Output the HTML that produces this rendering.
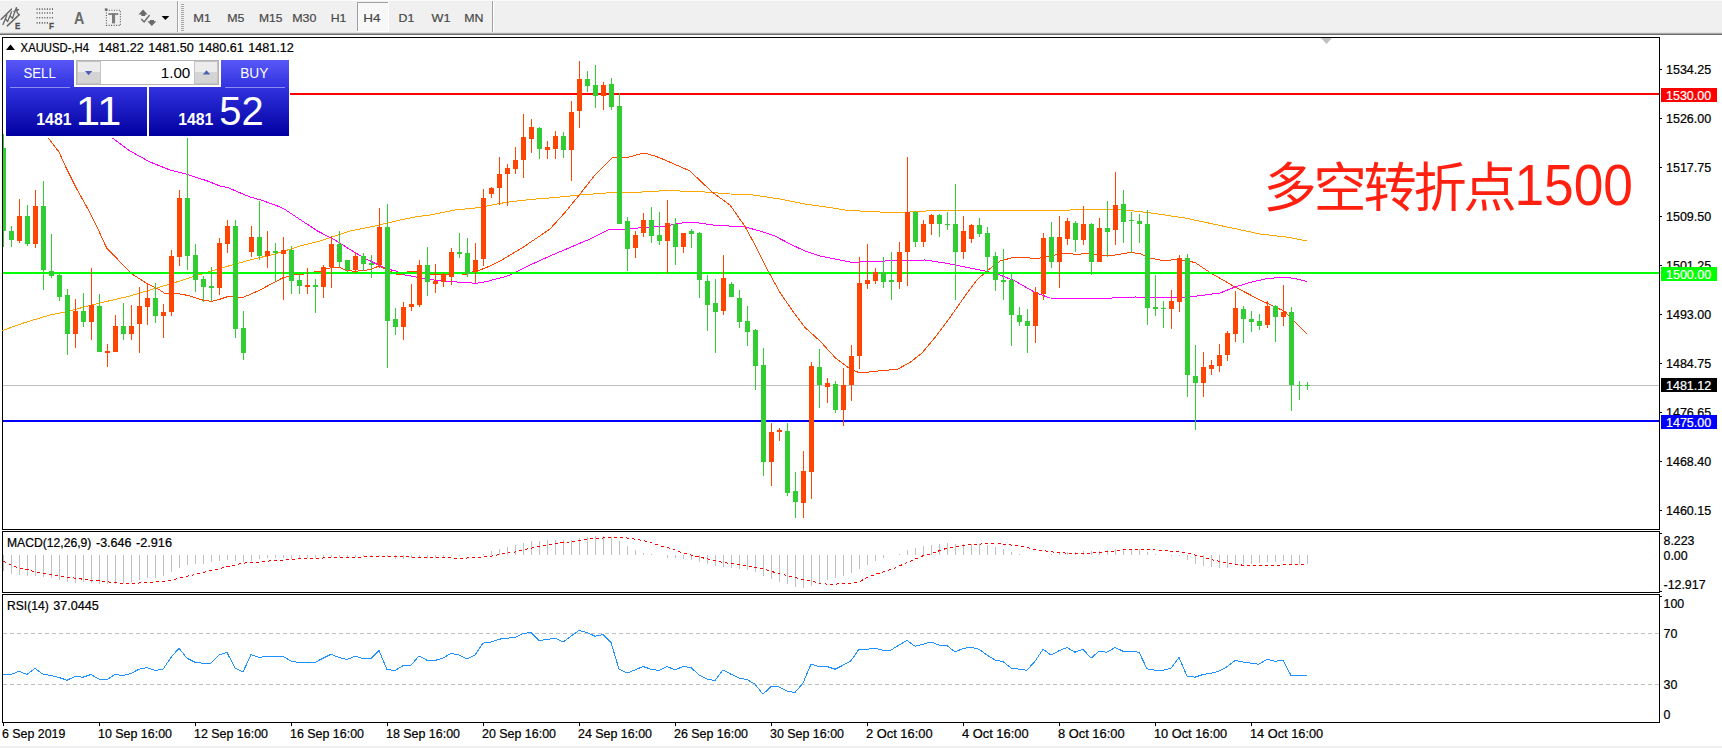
<!DOCTYPE html><html><head><meta charset="utf-8"><title>XAUUSD H4</title>
<style>
html,body{margin:0;padding:0;background:#fff}
body{width:1722px;height:748px;position:relative;overflow:hidden;font-family:"Liberation Sans","Noto Sans CJK SC",sans-serif}
svg{position:absolute;left:0;top:0}
text{font-family:"Liberation Sans","Noto Sans CJK SC",sans-serif}
.ax{font-size:12.4px;fill:#000;stroke:#000;stroke-width:.22px}
.tb{font-size:11.8px;fill:#484848;stroke:#484848;stroke-width:.2px}
.tag{font-size:12.4px;fill:#fff;stroke:#fff;stroke-width:.22px}
.cn{font-family:"Liberation Sans","Noto Sans CJK SC",sans-serif;font-size:53.2px;fill:#ff2010}
</style></head><body>
<svg width="1722" height="748" viewBox="0 0 1722 748">
<defs><linearGradient id="bg1" x1="0" y1="0" x2="0" y2="1"><stop offset="0" stop-color="#5858f8"/><stop offset="0.36" stop-color="#3232e0"/><stop offset="1" stop-color="#0000a0"/></linearGradient><linearGradient id="btn" x1="0" y1="0" x2="0" y2="1"><stop offset="0" stop-color="#f4f4f4"/><stop offset="1" stop-color="#cfcfcf"/></linearGradient></defs>
<g shape-rendering="crispEdges">
<rect x="0" y="0" width="1722" height="37" fill="#f0f0f0"/>
<rect x="0" y="0" width="1722" height="1" fill="#fbfbfb"/>
<rect x="0" y="32" width="1722" height="1" fill="#e2e2e2"/>
<rect x="0" y="33" width="1722" height="1" fill="#a8a8a8"/>
<rect x="0" y="34" width="1722" height="1" fill="#6c6c6c"/>
<rect x="0" y="35" width="1722" height="713" fill="#fff"/>
<rect x="177" y="1" width="1" height="31" fill="#a0a0a0"/><rect x="178" y="1" width="1" height="31" fill="#fff"/>
<rect x="181" y="4" width="3" height="1" fill="#a8a8a8"/>
<rect x="181" y="6" width="3" height="1" fill="#a8a8a8"/>
<rect x="181" y="8" width="3" height="1" fill="#a8a8a8"/>
<rect x="181" y="10" width="3" height="1" fill="#a8a8a8"/>
<rect x="181" y="12" width="3" height="1" fill="#a8a8a8"/>
<rect x="181" y="14" width="3" height="1" fill="#a8a8a8"/>
<rect x="181" y="16" width="3" height="1" fill="#a8a8a8"/>
<rect x="181" y="18" width="3" height="1" fill="#a8a8a8"/>
<rect x="181" y="20" width="3" height="1" fill="#a8a8a8"/>
<rect x="181" y="22" width="3" height="1" fill="#a8a8a8"/>
<rect x="181" y="24" width="3" height="1" fill="#a8a8a8"/>
<rect x="181" y="26" width="3" height="1" fill="#a8a8a8"/>
<rect x="181" y="28" width="3" height="1" fill="#a8a8a8"/>
<rect x="181" y="30" width="3" height="1" fill="#a8a8a8"/>
<rect x="492" y="1" width="1" height="31" fill="#a0a0a0"/><rect x="493" y="1" width="1" height="31" fill="#fff"/>
<rect x="357" y="2" width="32" height="30" fill="#fff"/><rect x="357" y="2" width="31" height="29" fill="#a0a0a0"/><rect x="358" y="3" width="30" height="28" fill="#f8f8f8"/>
</g>
<text class="tb" x="193.2" y="22.1" textLength="17.8" lengthAdjust="spacingAndGlyphs">M1</text>
<text class="tb" x="227.2" y="22.1" textLength="17.2" lengthAdjust="spacingAndGlyphs">M5</text>
<text class="tb" x="258.9" y="22.1" textLength="23.5" lengthAdjust="spacingAndGlyphs">M15</text>
<text class="tb" x="292.2" y="22.1" textLength="24.2" lengthAdjust="spacingAndGlyphs">M30</text>
<text class="tb" x="330.7" y="22.1" textLength="15.7" lengthAdjust="spacingAndGlyphs">H1</text>
<text class="tb" x="363.2" y="22.1" textLength="17.2" lengthAdjust="spacingAndGlyphs">H4</text>
<text class="tb" x="398.59999999999997" y="22.1" textLength="15.799999999999999" lengthAdjust="spacingAndGlyphs">D1</text>
<text class="tb" x="431.5" y="22.1" textLength="18.9" lengthAdjust="spacingAndGlyphs">W1</text>
<text class="tb" x="464.2" y="22.1" textLength="19.2" lengthAdjust="spacingAndGlyphs">MN</text>
<g stroke="#6a6a6a" fill="none" stroke-width="1.6" stroke-linecap="round"><path d="M1.2 19.2 L11.4 9.2 M7.3 25.8 L19.3 14.6"/><path stroke-width="1.35" stroke-linejoin="round" d="M3 24.6 L6.8 15.2 M5.4 18.6 L7.6 21.6 L11.6 11.8 M10 15.8 L12.4 18.4 L16.4 7.6 L17.2 12.6 L18.8 14.6 M14 11.4 L18.6 9.6"/></g>
<text x="15" y="28.8" font-size="9" font-weight="bold" fill="#505050" stroke="#505050" stroke-width="0.3" textLength="5.3" lengthAdjust="spacingAndGlyphs">E</text>
<g stroke="#5c5c5c" stroke-width="1.6" stroke-dasharray="1 1.57"><path d="M36.6 9.1H53.5M36.6 13H53.5M36.6 17.8H53.5M36.6 22.9H48.5"/></g>
<text x="49" y="28.8" font-size="9" font-weight="bold" fill="#505050" stroke="#505050" stroke-width="0.3" textLength="5" lengthAdjust="spacingAndGlyphs">F</text>
<text x="74.1" y="23.5" font-size="16" font-weight="bold" fill="#6a6a6a" textLength="10.3" lengthAdjust="spacingAndGlyphs">A</text>
<rect x="106.4" y="10.2" width="14" height="15.2" fill="none" stroke="#555" stroke-width="1.1" stroke-dasharray="1 1.5"/>
<rect x="104.8" y="8.4" width="2.7" height="2.3" fill="#6a6a6a"/>
<rect x="108.3" y="13.2" width="10" height="1.7" fill="#7c7c7c"/><rect x="112" y="13.2" width="3.1" height="10.2" fill="#7c7c7c"/>
<g fill="#6a6a6a"><path d="M143.1 9.4 L147.5 14.6 L145.2 14.6 L145.2 16 L141.3 16 L141.3 14.6 L138.5 14.6Z"/><path d="M151.8 26 L156.4 21.2 L154 21.2 L154 19.9 L149.9 19.9 L149.9 21.2 L147.4 21.2Z"/></g><path d="M141.3 19 L144.1 21.9 L149.6 15.1" stroke="#6a6a6a" stroke-width="1.5" fill="none"/>
<path d="M161.6 16 L169.3 16 L165.4 20.1Z" fill="#000"/>
<g shape-rendering="crispEdges" fill="#000">
<rect x="2" y="37" width="1658" height="1"/>
<rect x="2" y="37" width="1" height="686"/>
<rect x="1659" y="37" width="1" height="686"/>
<rect x="2" y="529" width="1658" height="1"/>
<rect x="2" y="531" width="1658" height="1"/>
<rect x="2" y="592" width="1658" height="1"/>
<rect x="2" y="594" width="1658" height="1"/>
<rect x="2" y="722" width="1658" height="1"/>
<rect x="2" y="530" width="1658" height="1" fill="#fff"/>
<rect x="2" y="593" width="1658" height="1" fill="#fff"/>
<rect x="1660" y="591" width="2" height="1"/><rect x="1660" y="596" width="2" height="1"/><rect x="1660" y="533" width="2" height="1"/>
</g>
<rect x="0" y="746" width="1722" height="2" fill="#f0f0f0"/>
<path d="M1321 38 L1332 38 L1326.5 44Z" fill="#c0c0c0"/>
<g shape-rendering="crispEdges">
<rect x="3" y="385" width="1656" height="1" fill="#c0c0c0"/>
<polyline fill="none" stroke="#ffa500" stroke-width="1" points="2.5,330.5 25.0,322.5 50.0,315.0 65.0,312.0 100.0,303.0 130.0,296.0 150.0,290.0 175.0,282.5 200.0,274.5 225.0,267.0 250.0,260.0 275.0,254.0 300.0,246.0 320.0,241.0 350.0,231.0 375.0,226.0 400.0,220.0 415.0,217.0 430.0,215.0 455.0,210.0 480.0,207.5 505.0,202.5 530.0,199.5 555.0,197.5 580.0,195.0 612.5,192.5 642.5,192.0 667.5,190.5 705.0,192.0 730.0,194.0 750.0,194.5 780.0,199.0 805.0,204.0 830.0,207.5 845.0,210.0 860.0,211.0 890.0,212.5 910.0,212.0 935.0,210.5 1015.0,211.0 1055.0,210.5 1085.0,209.5 1110.0,209.5 1125.0,210.0 1147.5,212.5 1185.0,218.0 1222.5,226.0 1260.0,234.0 1290.0,237.5 1306.5,241.0"/>
<polyline fill="none" stroke="#ff00ff" stroke-width="1" points="112.5,138.0 130.0,151.0 150.0,162.0 170.0,170.0 187.5,174.5 207.5,181.0 220.0,186.0 227.5,187.5 250.0,197.0 262.5,200.5 277.5,206.0 285.0,209.5 300.0,219.5 317.5,231.0 335.0,240.0 350.0,249.5 365.0,258.5 371.7,261.6 385.5,268.5 396.8,271.3 402.0,274.4 410.6,276.0 418.0,277.3 432.0,279.8 440.8,280.8 457.0,282.0 476.0,283.3 486.0,281.7 505.0,276.7 510.0,275.0 530.0,265.0 550.0,256.0 570.0,247.5 590.0,239.0 610.0,229.0 625.0,229.0 645.0,227.5 665.0,226.0 685.0,222.5 695.0,222.5 712.5,225.0 745.0,227.0 760.0,231.0 775.0,236.0 790.0,244.0 805.0,251.0 820.0,256.0 835.0,259.0 850.0,262.0 860.0,262.0 885.0,261.0 925.0,260.0 945.0,263.0 960.0,266.0 985.0,271.0 1000.0,275.0 1015.0,281.0 1035.0,292.5 1050.0,298.0 1090.0,299.0 1135.0,297.0 1160.0,297.5 1185.0,297.5 1205.0,295.0 1220.0,293.0 1235.0,287.0 1250.0,282.5 1265.0,279.0 1284.0,277.0 1295.0,278.5 1307.0,281.5"/>
<polyline fill="none" stroke="#ff4500" stroke-width="1" points="48.4,138.0 58.8,151.7 66.5,168.5 76.1,187.8 88.2,209.5 97.8,228.7 106.9,248.5 119.5,261.2 131.5,273.7 146.0,282.9 158.0,288.9 165.2,293.7 177.3,293.5 189.3,295.7 201.3,299.8 211.0,301.4 218.2,299.8 227.8,296.6 242.3,297.8 260.0,290.0 282.5,278.0 294.0,274.8 302.0,274.4 310.0,273.0 317.0,271.4 321.0,271.2 326.4,269.0 332.7,267.2 340.0,267.6 346.5,270.4 355.0,271.3 365.0,270.4 371.7,269.0 379.0,266.0 384.0,268.5 390.5,271.3 396.8,274.4 403.0,274.0 409.0,271.3 415.6,271.1 422.0,273.0 432.0,274.8 450.0,275.0 462.0,275.0 466.0,274.6 472.0,272.0 478.0,270.8 490.0,266.0 503.6,259.0 522.0,248.0 550.0,229.0 565.0,212.5 580.0,194.0 595.0,175.0 612.0,158.0 627.0,157.5 644.0,153.0 655.0,156.0 665.0,160.0 690.0,171.0 712.0,192.0 730.0,205.0 745.0,226.5 755.0,245.0 767.5,270.0 780.0,292.5 792.0,310.0 805.0,327.5 820.0,341.0 835.0,357.5 850.0,369.0 860.0,373.0 882.0,370.5 897.0,369.5 910.0,362.5 922.0,353.0 935.0,337.5 950.0,317.5 965.0,296.0 977.0,280.0 985.0,272.5 1000.0,261.0 1015.0,257.0 1025.0,257.0 1035.0,259.0 1050.0,256.0 1065.0,253.0 1077.0,254.5 1090.0,253.0 1100.0,256.0 1115.0,255.0 1130.0,252.5 1140.0,253.5 1150.0,258.0 1165.0,261.0 1177.0,259.0 1195.0,262.5 1210.0,272.5 1235.0,287.0 1260.0,300.0 1285.0,311.5 1290.0,317.0 1307.0,334.0"/>
<rect x="290" y="93" width="1369" height="2" fill="#ff0000"/>
<rect x="3" y="272" width="1656" height="2" fill="#00ff00"/>
<rect x="3" y="420" width="1656" height="2" fill="#0000ff"/>
<rect x="3" y="134" width="1" height="113" fill="#32cd32"/>
<rect x="3" y="148" width="3" height="83" fill="#32cd32"/>
<rect x="11" y="226" width="1" height="21" fill="#32cd32"/>
<rect x="9" y="231" width="5" height="9" fill="#32cd32"/>
<rect x="19" y="199" width="1" height="44" fill="#ff4500"/>
<rect x="17" y="216" width="5" height="25" fill="#ff4500"/>
<rect x="27" y="205" width="1" height="41" fill="#32cd32"/>
<rect x="25" y="216" width="5" height="28" fill="#32cd32"/>
<rect x="35" y="190" width="1" height="58" fill="#ff4500"/>
<rect x="33" y="206" width="5" height="38" fill="#ff4500"/>
<rect x="43" y="181" width="1" height="109" fill="#32cd32"/>
<rect x="41" y="206" width="5" height="64" fill="#32cd32"/>
<rect x="51" y="234" width="1" height="44" fill="#32cd32"/>
<rect x="49" y="271" width="5" height="5" fill="#32cd32"/>
<rect x="59" y="274" width="1" height="27" fill="#32cd32"/>
<rect x="57" y="275" width="5" height="22" fill="#32cd32"/>
<rect x="67" y="289" width="1" height="66" fill="#32cd32"/>
<rect x="65" y="295" width="5" height="39" fill="#32cd32"/>
<rect x="75" y="299" width="1" height="49" fill="#ff4500"/>
<rect x="73" y="311" width="5" height="23" fill="#ff4500"/>
<rect x="83" y="293" width="1" height="34" fill="#32cd32"/>
<rect x="81" y="311" width="5" height="11" fill="#32cd32"/>
<rect x="91" y="268" width="1" height="72" fill="#ff4500"/>
<rect x="89" y="305" width="5" height="17" fill="#ff4500"/>
<rect x="99" y="294" width="1" height="58" fill="#32cd32"/>
<rect x="97" y="306" width="5" height="46" fill="#32cd32"/>
<rect x="107" y="344" width="1" height="23" fill="#ff4500"/>
<rect x="105" y="351" width="5" height="2" fill="#ff4500"/>
<rect x="115" y="315" width="1" height="37" fill="#ff4500"/>
<rect x="113" y="326" width="5" height="26" fill="#ff4500"/>
<rect x="123" y="303" width="1" height="37" fill="#32cd32"/>
<rect x="121" y="326" width="5" height="8" fill="#32cd32"/>
<rect x="131" y="305" width="1" height="35" fill="#ff4500"/>
<rect x="129" y="326" width="5" height="8" fill="#ff4500"/>
<rect x="139" y="287" width="1" height="66" fill="#ff4500"/>
<rect x="137" y="306" width="5" height="18" fill="#ff4500"/>
<rect x="147" y="284" width="1" height="41" fill="#ff4500"/>
<rect x="145" y="298" width="5" height="9" fill="#ff4500"/>
<rect x="155" y="283" width="1" height="40" fill="#32cd32"/>
<rect x="153" y="298" width="5" height="18" fill="#32cd32"/>
<rect x="163" y="304" width="1" height="34" fill="#ff4500"/>
<rect x="161" y="312" width="5" height="4" fill="#ff4500"/>
<rect x="171" y="250" width="1" height="66" fill="#ff4500"/>
<rect x="169" y="256" width="5" height="56" fill="#ff4500"/>
<rect x="179" y="190" width="1" height="76" fill="#ff4500"/>
<rect x="177" y="198" width="5" height="59" fill="#ff4500"/>
<rect x="187" y="138" width="1" height="132" fill="#32cd32"/>
<rect x="185" y="198" width="5" height="58" fill="#32cd32"/>
<rect x="195" y="244" width="1" height="48" fill="#32cd32"/>
<rect x="193" y="255" width="5" height="25" fill="#32cd32"/>
<rect x="203" y="276" width="1" height="26" fill="#32cd32"/>
<rect x="201" y="279" width="5" height="8" fill="#32cd32"/>
<rect x="211" y="267" width="1" height="34" fill="#32cd32"/>
<rect x="209" y="286" width="5" height="2" fill="#32cd32"/>
<rect x="219" y="238" width="1" height="57" fill="#ff4500"/>
<rect x="217" y="243" width="5" height="45" fill="#ff4500"/>
<rect x="227" y="220" width="1" height="33" fill="#ff4500"/>
<rect x="225" y="226" width="5" height="18" fill="#ff4500"/>
<rect x="235" y="220" width="1" height="118" fill="#32cd32"/>
<rect x="233" y="226" width="5" height="103" fill="#32cd32"/>
<rect x="243" y="311" width="1" height="49" fill="#32cd32"/>
<rect x="241" y="328" width="5" height="25" fill="#32cd32"/>
<rect x="251" y="226" width="1" height="31" fill="#ff4500"/>
<rect x="249" y="237" width="5" height="15" fill="#ff4500"/>
<rect x="259" y="201" width="1" height="59" fill="#32cd32"/>
<rect x="257" y="237" width="5" height="19" fill="#32cd32"/>
<rect x="267" y="231" width="1" height="37" fill="#ff4500"/>
<rect x="265" y="251" width="5" height="5" fill="#ff4500"/>
<rect x="275" y="243" width="1" height="38" fill="#32cd32"/>
<rect x="273" y="251" width="5" height="2" fill="#32cd32"/>
<rect x="283" y="237" width="1" height="63" fill="#ff4500"/>
<rect x="281" y="250" width="5" height="4" fill="#ff4500"/>
<rect x="291" y="246" width="1" height="48" fill="#32cd32"/>
<rect x="289" y="250" width="5" height="31" fill="#32cd32"/>
<rect x="299" y="274" width="1" height="20" fill="#32cd32"/>
<rect x="297" y="280" width="5" height="6" fill="#32cd32"/>
<rect x="307" y="268" width="1" height="26" fill="#ff4500"/>
<rect x="305" y="285" width="5" height="2" fill="#ff4500"/>
<rect x="315" y="279" width="1" height="34" fill="#32cd32"/>
<rect x="313" y="285" width="5" height="2" fill="#32cd32"/>
<rect x="323" y="265" width="1" height="33" fill="#ff4500"/>
<rect x="321" y="267" width="5" height="20" fill="#ff4500"/>
<rect x="331" y="236" width="1" height="52" fill="#ff4500"/>
<rect x="329" y="244" width="5" height="23" fill="#ff4500"/>
<rect x="339" y="231" width="1" height="36" fill="#32cd32"/>
<rect x="337" y="244" width="5" height="18" fill="#32cd32"/>
<rect x="347" y="260" width="1" height="13" fill="#32cd32"/>
<rect x="345" y="260" width="5" height="10" fill="#32cd32"/>
<rect x="355" y="252" width="1" height="21" fill="#ff4500"/>
<rect x="353" y="256" width="5" height="14" fill="#ff4500"/>
<rect x="363" y="253" width="1" height="18" fill="#32cd32"/>
<rect x="361" y="256" width="5" height="8" fill="#32cd32"/>
<rect x="371" y="255" width="1" height="23" fill="#32cd32"/>
<rect x="369" y="263" width="5" height="2" fill="#32cd32"/>
<rect x="379" y="208" width="1" height="60" fill="#ff4500"/>
<rect x="377" y="227" width="5" height="38" fill="#ff4500"/>
<rect x="387" y="204" width="1" height="164" fill="#32cd32"/>
<rect x="385" y="227" width="5" height="94" fill="#32cd32"/>
<rect x="395" y="308" width="1" height="27" fill="#32cd32"/>
<rect x="393" y="319" width="5" height="8" fill="#32cd32"/>
<rect x="403" y="302" width="1" height="38" fill="#ff4500"/>
<rect x="401" y="307" width="5" height="20" fill="#ff4500"/>
<rect x="411" y="284" width="1" height="27" fill="#ff4500"/>
<rect x="409" y="304" width="5" height="3" fill="#ff4500"/>
<rect x="419" y="260" width="1" height="47" fill="#ff4500"/>
<rect x="417" y="265" width="5" height="40" fill="#ff4500"/>
<rect x="427" y="247" width="1" height="49" fill="#32cd32"/>
<rect x="425" y="265" width="5" height="17" fill="#32cd32"/>
<rect x="435" y="264" width="1" height="29" fill="#ff4500"/>
<rect x="433" y="281" width="5" height="3" fill="#ff4500"/>
<rect x="443" y="273" width="1" height="14" fill="#ff4500"/>
<rect x="441" y="275" width="5" height="7" fill="#ff4500"/>
<rect x="451" y="248" width="1" height="37" fill="#ff4500"/>
<rect x="449" y="252" width="5" height="25" fill="#ff4500"/>
<rect x="459" y="233" width="1" height="25" fill="#32cd32"/>
<rect x="457" y="252" width="5" height="2" fill="#32cd32"/>
<rect x="467" y="238" width="1" height="39" fill="#32cd32"/>
<rect x="465" y="253" width="5" height="21" fill="#32cd32"/>
<rect x="475" y="243" width="1" height="40" fill="#ff4500"/>
<rect x="473" y="260" width="5" height="12" fill="#ff4500"/>
<rect x="483" y="189" width="1" height="77" fill="#ff4500"/>
<rect x="481" y="198" width="5" height="61" fill="#ff4500"/>
<rect x="491" y="187" width="1" height="11" fill="#ff4500"/>
<rect x="489" y="188" width="5" height="6" fill="#ff4500"/>
<rect x="499" y="157" width="1" height="48" fill="#ff4500"/>
<rect x="497" y="174" width="5" height="14" fill="#ff4500"/>
<rect x="507" y="164" width="1" height="42" fill="#ff4500"/>
<rect x="505" y="168" width="5" height="6" fill="#ff4500"/>
<rect x="515" y="147" width="1" height="27" fill="#ff4500"/>
<rect x="513" y="160" width="5" height="9" fill="#ff4500"/>
<rect x="523" y="114" width="1" height="64" fill="#ff4500"/>
<rect x="521" y="137" width="5" height="23" fill="#ff4500"/>
<rect x="531" y="119" width="1" height="34" fill="#ff4500"/>
<rect x="529" y="127" width="5" height="12" fill="#ff4500"/>
<rect x="539" y="127" width="1" height="32" fill="#32cd32"/>
<rect x="537" y="128" width="5" height="21" fill="#32cd32"/>
<rect x="547" y="141" width="1" height="18" fill="#ff4500"/>
<rect x="545" y="147" width="5" height="3" fill="#ff4500"/>
<rect x="555" y="131" width="1" height="28" fill="#ff4500"/>
<rect x="553" y="136" width="5" height="13" fill="#ff4500"/>
<rect x="563" y="132" width="1" height="26" fill="#32cd32"/>
<rect x="561" y="136" width="5" height="14" fill="#32cd32"/>
<rect x="571" y="101" width="1" height="80" fill="#ff4500"/>
<rect x="569" y="112" width="5" height="38" fill="#ff4500"/>
<rect x="579" y="61" width="1" height="67" fill="#ff4500"/>
<rect x="577" y="79" width="5" height="32" fill="#ff4500"/>
<rect x="587" y="71" width="1" height="21" fill="#32cd32"/>
<rect x="585" y="79" width="5" height="7" fill="#32cd32"/>
<rect x="595" y="65" width="1" height="43" fill="#32cd32"/>
<rect x="593" y="85" width="5" height="11" fill="#32cd32"/>
<rect x="603" y="82" width="1" height="28" fill="#ff4500"/>
<rect x="601" y="85" width="5" height="11" fill="#ff4500"/>
<rect x="611" y="78" width="1" height="32" fill="#32cd32"/>
<rect x="609" y="84" width="5" height="23" fill="#32cd32"/>
<rect x="619" y="93" width="1" height="131" fill="#32cd32"/>
<rect x="617" y="106" width="5" height="118" fill="#32cd32"/>
<rect x="627" y="217" width="1" height="54" fill="#32cd32"/>
<rect x="625" y="221" width="5" height="28" fill="#32cd32"/>
<rect x="635" y="231" width="1" height="27" fill="#ff4500"/>
<rect x="633" y="235" width="5" height="13" fill="#ff4500"/>
<rect x="643" y="213" width="1" height="24" fill="#ff4500"/>
<rect x="641" y="220" width="5" height="13" fill="#ff4500"/>
<rect x="651" y="207" width="1" height="36" fill="#32cd32"/>
<rect x="649" y="220" width="5" height="16" fill="#32cd32"/>
<rect x="659" y="212" width="1" height="33" fill="#32cd32"/>
<rect x="657" y="235" width="5" height="6" fill="#32cd32"/>
<rect x="667" y="200" width="1" height="73" fill="#ff4500"/>
<rect x="665" y="223" width="5" height="18" fill="#ff4500"/>
<rect x="675" y="218" width="1" height="47" fill="#32cd32"/>
<rect x="673" y="224" width="5" height="23" fill="#32cd32"/>
<rect x="683" y="233" width="1" height="20" fill="#ff4500"/>
<rect x="681" y="233" width="5" height="14" fill="#ff4500"/>
<rect x="691" y="229" width="1" height="19" fill="#32cd32"/>
<rect x="689" y="231" width="5" height="3" fill="#32cd32"/>
<rect x="699" y="232" width="1" height="66" fill="#32cd32"/>
<rect x="697" y="233" width="5" height="47" fill="#32cd32"/>
<rect x="707" y="275" width="1" height="56" fill="#32cd32"/>
<rect x="705" y="281" width="5" height="24" fill="#32cd32"/>
<rect x="715" y="279" width="1" height="74" fill="#32cd32"/>
<rect x="713" y="303" width="5" height="9" fill="#32cd32"/>
<rect x="723" y="255" width="1" height="60" fill="#ff4500"/>
<rect x="721" y="278" width="5" height="33" fill="#ff4500"/>
<rect x="731" y="282" width="1" height="15" fill="#32cd32"/>
<rect x="729" y="284" width="5" height="13" fill="#32cd32"/>
<rect x="739" y="290" width="1" height="38" fill="#32cd32"/>
<rect x="737" y="298" width="5" height="24" fill="#32cd32"/>
<rect x="747" y="306" width="1" height="40" fill="#32cd32"/>
<rect x="745" y="321" width="5" height="11" fill="#32cd32"/>
<rect x="755" y="329" width="1" height="61" fill="#32cd32"/>
<rect x="753" y="330" width="5" height="36" fill="#32cd32"/>
<rect x="763" y="348" width="1" height="128" fill="#32cd32"/>
<rect x="761" y="365" width="5" height="97" fill="#32cd32"/>
<rect x="771" y="423" width="1" height="63" fill="#ff4500"/>
<rect x="769" y="432" width="5" height="30" fill="#ff4500"/>
<rect x="779" y="428" width="1" height="13" fill="#ff4500"/>
<rect x="777" y="430" width="5" height="2" fill="#ff4500"/>
<rect x="787" y="423" width="1" height="73" fill="#32cd32"/>
<rect x="785" y="431" width="5" height="62" fill="#32cd32"/>
<rect x="795" y="472" width="1" height="46" fill="#32cd32"/>
<rect x="793" y="491" width="5" height="11" fill="#32cd32"/>
<rect x="803" y="451" width="1" height="67" fill="#ff4500"/>
<rect x="801" y="471" width="5" height="32" fill="#ff4500"/>
<rect x="811" y="362" width="1" height="137" fill="#ff4500"/>
<rect x="809" y="366" width="5" height="106" fill="#ff4500"/>
<rect x="819" y="349" width="1" height="59" fill="#32cd32"/>
<rect x="817" y="367" width="5" height="18" fill="#32cd32"/>
<rect x="827" y="378" width="1" height="25" fill="#ff4500"/>
<rect x="825" y="383" width="5" height="4" fill="#ff4500"/>
<rect x="835" y="381" width="1" height="32" fill="#32cd32"/>
<rect x="833" y="384" width="5" height="26" fill="#32cd32"/>
<rect x="843" y="368" width="1" height="58" fill="#ff4500"/>
<rect x="841" y="385" width="5" height="25" fill="#ff4500"/>
<rect x="851" y="345" width="1" height="56" fill="#ff4500"/>
<rect x="849" y="356" width="5" height="29" fill="#ff4500"/>
<rect x="859" y="257" width="1" height="112" fill="#ff4500"/>
<rect x="857" y="283" width="5" height="73" fill="#ff4500"/>
<rect x="867" y="244" width="1" height="45" fill="#ff4500"/>
<rect x="865" y="280" width="5" height="4" fill="#ff4500"/>
<rect x="875" y="268" width="1" height="16" fill="#ff4500"/>
<rect x="873" y="272" width="5" height="9" fill="#ff4500"/>
<rect x="883" y="257" width="1" height="31" fill="#32cd32"/>
<rect x="881" y="272" width="5" height="10" fill="#32cd32"/>
<rect x="891" y="252" width="1" height="48" fill="#32cd32"/>
<rect x="889" y="280" width="5" height="2" fill="#32cd32"/>
<rect x="899" y="242" width="1" height="47" fill="#ff4500"/>
<rect x="897" y="252" width="5" height="30" fill="#ff4500"/>
<rect x="907" y="157" width="1" height="129" fill="#ff4500"/>
<rect x="905" y="212" width="5" height="40" fill="#ff4500"/>
<rect x="915" y="211" width="1" height="36" fill="#32cd32"/>
<rect x="913" y="212" width="5" height="30" fill="#32cd32"/>
<rect x="923" y="220" width="1" height="27" fill="#ff4500"/>
<rect x="921" y="224" width="5" height="18" fill="#ff4500"/>
<rect x="931" y="214" width="1" height="21" fill="#ff4500"/>
<rect x="929" y="215" width="5" height="9" fill="#ff4500"/>
<rect x="939" y="214" width="1" height="23" fill="#32cd32"/>
<rect x="937" y="215" width="5" height="9" fill="#32cd32"/>
<rect x="947" y="212" width="1" height="18" fill="#32cd32"/>
<rect x="945" y="224" width="5" height="1" fill="#32cd32"/>
<rect x="955" y="184" width="1" height="116" fill="#32cd32"/>
<rect x="953" y="224" width="5" height="28" fill="#32cd32"/>
<rect x="963" y="216" width="1" height="43" fill="#ff4500"/>
<rect x="961" y="231" width="5" height="21" fill="#ff4500"/>
<rect x="971" y="224" width="1" height="19" fill="#ff4500"/>
<rect x="969" y="225" width="5" height="14" fill="#ff4500"/>
<rect x="979" y="218" width="1" height="19" fill="#32cd32"/>
<rect x="977" y="225" width="5" height="9" fill="#32cd32"/>
<rect x="987" y="227" width="1" height="46" fill="#32cd32"/>
<rect x="985" y="233" width="5" height="24" fill="#32cd32"/>
<rect x="995" y="252" width="1" height="39" fill="#32cd32"/>
<rect x="993" y="256" width="5" height="24" fill="#32cd32"/>
<rect x="1003" y="249" width="1" height="51" fill="#32cd32"/>
<rect x="1001" y="280" width="5" height="2" fill="#32cd32"/>
<rect x="1011" y="273" width="1" height="73" fill="#32cd32"/>
<rect x="1009" y="280" width="5" height="35" fill="#32cd32"/>
<rect x="1019" y="307" width="1" height="19" fill="#32cd32"/>
<rect x="1017" y="315" width="5" height="7" fill="#32cd32"/>
<rect x="1027" y="309" width="1" height="44" fill="#32cd32"/>
<rect x="1025" y="321" width="5" height="5" fill="#32cd32"/>
<rect x="1035" y="287" width="1" height="56" fill="#ff4500"/>
<rect x="1033" y="292" width="5" height="34" fill="#ff4500"/>
<rect x="1043" y="233" width="1" height="67" fill="#ff4500"/>
<rect x="1041" y="238" width="5" height="56" fill="#ff4500"/>
<rect x="1051" y="222" width="1" height="46" fill="#32cd32"/>
<rect x="1049" y="237" width="5" height="25" fill="#32cd32"/>
<rect x="1059" y="216" width="1" height="72" fill="#ff4500"/>
<rect x="1057" y="237" width="5" height="25" fill="#ff4500"/>
<rect x="1067" y="218" width="1" height="27" fill="#ff4500"/>
<rect x="1065" y="221" width="5" height="18" fill="#ff4500"/>
<rect x="1075" y="221" width="1" height="31" fill="#32cd32"/>
<rect x="1073" y="223" width="5" height="17" fill="#32cd32"/>
<rect x="1083" y="206" width="1" height="39" fill="#ff4500"/>
<rect x="1081" y="224" width="5" height="16" fill="#ff4500"/>
<rect x="1091" y="223" width="1" height="52" fill="#32cd32"/>
<rect x="1089" y="224" width="5" height="38" fill="#32cd32"/>
<rect x="1099" y="218" width="1" height="44" fill="#ff4500"/>
<rect x="1097" y="228" width="5" height="34" fill="#ff4500"/>
<rect x="1107" y="201" width="1" height="56" fill="#32cd32"/>
<rect x="1105" y="228" width="5" height="4" fill="#32cd32"/>
<rect x="1115" y="172" width="1" height="73" fill="#ff4500"/>
<rect x="1113" y="205" width="5" height="25" fill="#ff4500"/>
<rect x="1123" y="190" width="1" height="53" fill="#32cd32"/>
<rect x="1121" y="204" width="5" height="18" fill="#32cd32"/>
<rect x="1131" y="212" width="1" height="41" fill="#32cd32"/>
<rect x="1129" y="220" width="5" height="1" fill="#32cd32"/>
<rect x="1139" y="214" width="1" height="29" fill="#32cd32"/>
<rect x="1137" y="221" width="5" height="3" fill="#32cd32"/>
<rect x="1147" y="210" width="1" height="115" fill="#32cd32"/>
<rect x="1145" y="224" width="5" height="84" fill="#32cd32"/>
<rect x="1155" y="275" width="1" height="41" fill="#32cd32"/>
<rect x="1153" y="307" width="5" height="2" fill="#32cd32"/>
<rect x="1163" y="301" width="1" height="27" fill="#32cd32"/>
<rect x="1161" y="308" width="5" height="1" fill="#32cd32"/>
<rect x="1171" y="290" width="1" height="39" fill="#ff4500"/>
<rect x="1169" y="301" width="5" height="8" fill="#ff4500"/>
<rect x="1179" y="255" width="1" height="57" fill="#ff4500"/>
<rect x="1177" y="258" width="5" height="44" fill="#ff4500"/>
<rect x="1187" y="254" width="1" height="143" fill="#32cd32"/>
<rect x="1185" y="258" width="5" height="117" fill="#32cd32"/>
<rect x="1195" y="345" width="1" height="85" fill="#32cd32"/>
<rect x="1193" y="376" width="5" height="7" fill="#32cd32"/>
<rect x="1203" y="352" width="1" height="45" fill="#ff4500"/>
<rect x="1201" y="367" width="5" height="16" fill="#ff4500"/>
<rect x="1211" y="360" width="1" height="15" fill="#ff4500"/>
<rect x="1209" y="365" width="5" height="4" fill="#ff4500"/>
<rect x="1219" y="344" width="1" height="28" fill="#ff4500"/>
<rect x="1217" y="355" width="5" height="11" fill="#ff4500"/>
<rect x="1227" y="331" width="1" height="30" fill="#ff4500"/>
<rect x="1225" y="333" width="5" height="22" fill="#ff4500"/>
<rect x="1235" y="291" width="1" height="51" fill="#ff4500"/>
<rect x="1233" y="308" width="5" height="26" fill="#ff4500"/>
<rect x="1243" y="306" width="1" height="37" fill="#32cd32"/>
<rect x="1241" y="309" width="5" height="10" fill="#32cd32"/>
<rect x="1251" y="311" width="1" height="21" fill="#32cd32"/>
<rect x="1249" y="319" width="5" height="3" fill="#32cd32"/>
<rect x="1259" y="314" width="1" height="16" fill="#32cd32"/>
<rect x="1257" y="321" width="5" height="5" fill="#32cd32"/>
<rect x="1267" y="301" width="1" height="27" fill="#ff4500"/>
<rect x="1265" y="306" width="5" height="19" fill="#ff4500"/>
<rect x="1275" y="305" width="1" height="37" fill="#32cd32"/>
<rect x="1273" y="306" width="5" height="11" fill="#32cd32"/>
<rect x="1283" y="285" width="1" height="41" fill="#ff4500"/>
<rect x="1281" y="312" width="5" height="5" fill="#ff4500"/>
<rect x="1291" y="307" width="1" height="104" fill="#32cd32"/>
<rect x="1289" y="312" width="5" height="73" fill="#32cd32"/>
<rect x="1299" y="381" width="1" height="19" fill="#32cd32"/>
<rect x="1297" y="385" width="5" height="1" fill="#32cd32"/>
<rect x="1307" y="382" width="1" height="8" fill="#32cd32"/>
<rect x="1305" y="385" width="5" height="1" fill="#32cd32"/>
<rect x="3" y="555" width="1" height="16" fill="#c0c0c0"/>
<rect x="11" y="555" width="1" height="19" fill="#c0c0c0"/>
<rect x="19" y="555" width="1" height="20" fill="#c0c0c0"/>
<rect x="27" y="555" width="1" height="21" fill="#c0c0c0"/>
<rect x="35" y="555" width="1" height="21" fill="#c0c0c0"/>
<rect x="43" y="555" width="1" height="22" fill="#c0c0c0"/>
<rect x="51" y="555" width="1" height="23" fill="#c0c0c0"/>
<rect x="59" y="555" width="1" height="25" fill="#c0c0c0"/>
<rect x="67" y="555" width="1" height="27" fill="#c0c0c0"/>
<rect x="75" y="555" width="1" height="28" fill="#c0c0c0"/>
<rect x="83" y="555" width="1" height="27" fill="#c0c0c0"/>
<rect x="91" y="555" width="1" height="28" fill="#c0c0c0"/>
<rect x="99" y="555" width="1" height="29" fill="#c0c0c0"/>
<rect x="107" y="555" width="1" height="29" fill="#c0c0c0"/>
<rect x="115" y="555" width="1" height="29" fill="#c0c0c0"/>
<rect x="123" y="555" width="1" height="28" fill="#c0c0c0"/>
<rect x="131" y="555" width="1" height="27" fill="#c0c0c0"/>
<rect x="139" y="555" width="1" height="25" fill="#c0c0c0"/>
<rect x="147" y="555" width="1" height="23" fill="#c0c0c0"/>
<rect x="155" y="555" width="1" height="23" fill="#c0c0c0"/>
<rect x="163" y="555" width="1" height="21" fill="#c0c0c0"/>
<rect x="171" y="555" width="1" height="17" fill="#c0c0c0"/>
<rect x="179" y="555" width="1" height="13" fill="#c0c0c0"/>
<rect x="187" y="555" width="1" height="10" fill="#c0c0c0"/>
<rect x="195" y="555" width="1" height="9" fill="#c0c0c0"/>
<rect x="203" y="555" width="1" height="9" fill="#c0c0c0"/>
<rect x="211" y="555" width="1" height="7" fill="#c0c0c0"/>
<rect x="219" y="555" width="1" height="6" fill="#c0c0c0"/>
<rect x="227" y="555" width="1" height="5" fill="#c0c0c0"/>
<rect x="235" y="555" width="1" height="6" fill="#c0c0c0"/>
<rect x="243" y="555" width="1" height="7" fill="#c0c0c0"/>
<rect x="251" y="555" width="1" height="6" fill="#c0c0c0"/>
<rect x="259" y="555" width="1" height="4" fill="#c0c0c0"/>
<rect x="267" y="555" width="1" height="3" fill="#c0c0c0"/>
<rect x="275" y="555" width="1" height="3" fill="#c0c0c0"/>
<rect x="283" y="555" width="1" height="3" fill="#c0c0c0"/>
<rect x="291" y="555" width="1" height="4" fill="#c0c0c0"/>
<rect x="299" y="555" width="1" height="3" fill="#c0c0c0"/>
<rect x="307" y="555" width="1" height="3" fill="#c0c0c0"/>
<rect x="315" y="555" width="1" height="3" fill="#c0c0c0"/>
<rect x="323" y="555" width="1" height="2" fill="#c0c0c0"/>
<rect x="331" y="555" width="1" height="2" fill="#c0c0c0"/>
<rect x="339" y="555" width="1" height="2" fill="#c0c0c0"/>
<rect x="347" y="555" width="1" height="2" fill="#c0c0c0"/>
<rect x="355" y="555" width="1" height="2" fill="#c0c0c0"/>
<rect x="363" y="555" width="1" height="1" fill="#c0c0c0"/>
<rect x="371" y="555" width="1" height="1" fill="#c0c0c0"/>
<rect x="379" y="555" width="1" height="1" fill="#c0c0c0"/>
<rect x="387" y="555" width="1" height="2" fill="#c0c0c0"/>
<rect x="395" y="555" width="1" height="4" fill="#c0c0c0"/>
<rect x="403" y="555" width="1" height="4" fill="#c0c0c0"/>
<rect x="411" y="555" width="1" height="3" fill="#c0c0c0"/>
<rect x="419" y="555" width="1" height="3" fill="#c0c0c0"/>
<rect x="427" y="555" width="1" height="3" fill="#c0c0c0"/>
<rect x="435" y="555" width="1" height="3" fill="#c0c0c0"/>
<rect x="443" y="555" width="1" height="2" fill="#c0c0c0"/>
<rect x="451" y="555" width="1" height="1" fill="#c0c0c0"/>
<rect x="459" y="555" width="1" height="1" fill="#c0c0c0"/>
<rect x="483" y="554" width="1" height="1" fill="#c0c0c0"/>
<rect x="491" y="551" width="1" height="4" fill="#c0c0c0"/>
<rect x="499" y="549" width="1" height="6" fill="#c0c0c0"/>
<rect x="507" y="547" width="1" height="8" fill="#c0c0c0"/>
<rect x="515" y="545" width="1" height="10" fill="#c0c0c0"/>
<rect x="523" y="543" width="1" height="12" fill="#c0c0c0"/>
<rect x="531" y="541" width="1" height="14" fill="#c0c0c0"/>
<rect x="539" y="541" width="1" height="14" fill="#c0c0c0"/>
<rect x="547" y="540" width="1" height="15" fill="#c0c0c0"/>
<rect x="555" y="540" width="1" height="15" fill="#c0c0c0"/>
<rect x="563" y="540" width="1" height="15" fill="#c0c0c0"/>
<rect x="571" y="540" width="1" height="15" fill="#c0c0c0"/>
<rect x="579" y="538" width="1" height="17" fill="#c0c0c0"/>
<rect x="587" y="537" width="1" height="18" fill="#c0c0c0"/>
<rect x="595" y="536" width="1" height="19" fill="#c0c0c0"/>
<rect x="603" y="536" width="1" height="19" fill="#c0c0c0"/>
<rect x="611" y="537" width="1" height="18" fill="#c0c0c0"/>
<rect x="619" y="541" width="1" height="14" fill="#c0c0c0"/>
<rect x="627" y="546" width="1" height="9" fill="#c0c0c0"/>
<rect x="635" y="550" width="1" height="5" fill="#c0c0c0"/>
<rect x="643" y="553" width="1" height="2" fill="#c0c0c0"/>
<rect x="651" y="554" width="1" height="1" fill="#c0c0c0"/>
<rect x="667" y="555" width="1" height="3" fill="#c0c0c0"/>
<rect x="675" y="555" width="1" height="3" fill="#c0c0c0"/>
<rect x="683" y="555" width="1" height="4" fill="#c0c0c0"/>
<rect x="691" y="555" width="1" height="5" fill="#c0c0c0"/>
<rect x="699" y="555" width="1" height="7" fill="#c0c0c0"/>
<rect x="707" y="555" width="1" height="9" fill="#c0c0c0"/>
<rect x="715" y="555" width="1" height="11" fill="#c0c0c0"/>
<rect x="723" y="555" width="1" height="12" fill="#c0c0c0"/>
<rect x="731" y="555" width="1" height="13" fill="#c0c0c0"/>
<rect x="739" y="555" width="1" height="14" fill="#c0c0c0"/>
<rect x="747" y="555" width="1" height="15" fill="#c0c0c0"/>
<rect x="755" y="555" width="1" height="17" fill="#c0c0c0"/>
<rect x="763" y="555" width="1" height="21" fill="#c0c0c0"/>
<rect x="771" y="555" width="1" height="24" fill="#c0c0c0"/>
<rect x="779" y="555" width="1" height="27" fill="#c0c0c0"/>
<rect x="787" y="555" width="1" height="29" fill="#c0c0c0"/>
<rect x="795" y="555" width="1" height="32" fill="#c0c0c0"/>
<rect x="803" y="555" width="1" height="33" fill="#c0c0c0"/>
<rect x="811" y="555" width="1" height="31" fill="#c0c0c0"/>
<rect x="819" y="555" width="1" height="28" fill="#c0c0c0"/>
<rect x="827" y="555" width="1" height="25" fill="#c0c0c0"/>
<rect x="835" y="555" width="1" height="23" fill="#c0c0c0"/>
<rect x="843" y="555" width="1" height="21" fill="#c0c0c0"/>
<rect x="851" y="555" width="1" height="18" fill="#c0c0c0"/>
<rect x="859" y="555" width="1" height="14" fill="#c0c0c0"/>
<rect x="867" y="555" width="1" height="10" fill="#c0c0c0"/>
<rect x="875" y="555" width="1" height="6" fill="#c0c0c0"/>
<rect x="883" y="555" width="1" height="3" fill="#c0c0c0"/>
<rect x="899" y="554" width="1" height="1" fill="#c0c0c0"/>
<rect x="907" y="550" width="1" height="5" fill="#c0c0c0"/>
<rect x="915" y="548" width="1" height="7" fill="#c0c0c0"/>
<rect x="923" y="546" width="1" height="9" fill="#c0c0c0"/>
<rect x="931" y="545" width="1" height="10" fill="#c0c0c0"/>
<rect x="939" y="544" width="1" height="11" fill="#c0c0c0"/>
<rect x="947" y="543" width="1" height="12" fill="#c0c0c0"/>
<rect x="955" y="544" width="1" height="11" fill="#c0c0c0"/>
<rect x="963" y="544" width="1" height="11" fill="#c0c0c0"/>
<rect x="971" y="544" width="1" height="11" fill="#c0c0c0"/>
<rect x="979" y="544" width="1" height="11" fill="#c0c0c0"/>
<rect x="987" y="545" width="1" height="10" fill="#c0c0c0"/>
<rect x="995" y="547" width="1" height="8" fill="#c0c0c0"/>
<rect x="1003" y="549" width="1" height="6" fill="#c0c0c0"/>
<rect x="1011" y="552" width="1" height="3" fill="#c0c0c0"/>
<rect x="1019" y="554" width="1" height="1" fill="#c0c0c0"/>
<rect x="1051" y="554" width="1" height="1" fill="#c0c0c0"/>
<rect x="1059" y="553" width="1" height="2" fill="#c0c0c0"/>
<rect x="1067" y="552" width="1" height="3" fill="#c0c0c0"/>
<rect x="1075" y="552" width="1" height="3" fill="#c0c0c0"/>
<rect x="1083" y="551" width="1" height="4" fill="#c0c0c0"/>
<rect x="1091" y="551" width="1" height="4" fill="#c0c0c0"/>
<rect x="1099" y="551" width="1" height="4" fill="#c0c0c0"/>
<rect x="1107" y="550" width="1" height="5" fill="#c0c0c0"/>
<rect x="1115" y="549" width="1" height="6" fill="#c0c0c0"/>
<rect x="1123" y="549" width="1" height="6" fill="#c0c0c0"/>
<rect x="1131" y="549" width="1" height="6" fill="#c0c0c0"/>
<rect x="1139" y="549" width="1" height="6" fill="#c0c0c0"/>
<rect x="1147" y="552" width="1" height="3" fill="#c0c0c0"/>
<rect x="1155" y="554" width="1" height="1" fill="#c0c0c0"/>
<rect x="1171" y="555" width="1" height="1" fill="#c0c0c0"/>
<rect x="1179" y="555" width="1" height="1" fill="#c0c0c0"/>
<rect x="1187" y="555" width="1" height="5" fill="#c0c0c0"/>
<rect x="1195" y="555" width="1" height="9" fill="#c0c0c0"/>
<rect x="1203" y="555" width="1" height="11" fill="#c0c0c0"/>
<rect x="1211" y="555" width="1" height="12" fill="#c0c0c0"/>
<rect x="1219" y="555" width="1" height="13" fill="#c0c0c0"/>
<rect x="1227" y="555" width="1" height="13" fill="#c0c0c0"/>
<rect x="1235" y="555" width="1" height="10" fill="#c0c0c0"/>
<rect x="1243" y="555" width="1" height="9" fill="#c0c0c0"/>
<rect x="1251" y="555" width="1" height="9" fill="#c0c0c0"/>
<rect x="1259" y="555" width="1" height="8" fill="#c0c0c0"/>
<rect x="1267" y="555" width="1" height="7" fill="#c0c0c0"/>
<rect x="1275" y="555" width="1" height="7" fill="#c0c0c0"/>
<rect x="1283" y="555" width="1" height="6" fill="#c0c0c0"/>
<rect x="1291" y="555" width="1" height="10" fill="#c0c0c0"/>
<rect x="1299" y="555" width="1" height="9" fill="#c0c0c0"/>
<rect x="1307" y="555" width="1" height="9" fill="#c0c0c0"/>
<polyline fill="none" stroke="#ff0000" stroke-width="1" stroke-dasharray="3 3" points="3,561.2 11,565.0 19,568.0 27,569.5 35,571.8 43,573.0 51,574.5 59,575.8 67,577.0 75,578.2 83,579.2 91,580.2 99,580.8 107,581.8 115,582.8 123,583.2 131,583.2 139,583.0 147,582.2 155,582.0 163,581.5 171,580.2 179,578.2 187,576.2 195,574.5 203,572.5 211,570.5 219,568.8 227,566.8 235,565.0 243,563.2 251,562.5 259,562.0 267,561.2 275,560.5 283,560.0 291,559.2 299,558.8 307,558.2 315,558.0 323,558.0 331,557.8 339,557.5 347,557.2 355,557.2 363,557.0 371,556.8 379,556.2 387,556.2 395,556.5 403,556.8 411,557.0 419,557.2 427,557.2 435,557.5 443,557.8 451,558.0 459,558.0 467,558.0 475,557.5 483,557.0 491,556.2 499,554.5 507,553.2 515,552.0 523,550.0 531,548.2 539,546.5 547,545.0 555,543.8 563,542.5 571,541.8 579,540.5 587,539.2 595,538.5 603,538.0 611,537.5 619,537.2 627,538.0 635,539.2 643,540.5 651,542.5 659,545.5 667,547.5 675,550.0 683,553.2 691,555.0 699,557.0 707,558.8 715,560.8 723,562.5 731,563.5 739,564.5 747,565.8 755,567.2 763,568.8 771,571.2 779,573.8 787,575.5 795,577.5 803,579.5 811,581.2 819,583.0 827,584.2 835,584.2 843,583.5 851,583.2 859,582.0 867,577.5 875,574.5 883,572.0 891,569.5 899,566.2 907,562.5 915,559.2 923,555.8 931,553.8 939,550.8 947,548.2 955,547.0 963,545.8 971,544.5 979,544.2 987,543.5 995,543.5 1003,544.2 1011,545.0 1019,546.2 1027,547.5 1035,549.5 1043,550.5 1051,551.8 1059,552.5 1067,553.2 1075,553.2 1083,553.2 1091,553.0 1099,552.5 1107,551.2 1115,551.0 1123,550.0 1131,549.5 1139,549.5 1147,549.5 1155,550.0 1163,550.2 1171,551.2 1179,552.0 1187,553.2 1195,555.0 1203,557.0 1211,559.5 1219,561.2 1227,563.2 1235,564.2 1243,565.2 1251,565.5 1259,565.8 1267,566.0 1275,565.2 1283,565.0 1291,564.5 1299,564.2 1307,564.0"/>
<path d="M3 633.5H1659" stroke="#c0c0c0" stroke-width="1" stroke-dasharray="4 3"/>
<path d="M3 684.5H1659" stroke="#c0c0c0" stroke-width="1" stroke-dasharray="4 3"/>
<polyline fill="none" stroke="#1e90ff" stroke-width="1" points="3,674.5 11,674.5 19,671.2 27,674.5 35,668.5 43,674.2 51,675.5 59,677.5 67,680.2 75,676.5 83,677.2 91,674.5 99,679.2 107,679.5 115,674.5 123,675.5 131,673.5 139,669.2 147,667.5 155,670.5 163,669.2 171,657.5 179,648.2 187,658.2 195,662.2 203,663.2 211,663.2 219,655.0 227,652.5 235,668.0 243,672.0 251,654.5 259,657.5 267,656.2 275,656.2 283,656.2 291,661.2 299,662.5 307,662.5 315,662.5 323,658.2 331,654.2 339,657.5 347,659.5 355,656.2 363,658.5 371,658.5 379,650.5 387,669.5 395,670.5 403,665.8 411,665.2 419,656.0 427,660.2 435,660.5 443,658.0 451,653.5 459,655.0 467,659.2 475,655.0 483,643.2 491,642.0 499,639.2 507,638.2 515,637.5 523,633.5 531,632.5 539,640.5 547,639.5 555,638.0 563,642.0 571,636.2 579,630.5 587,632.5 595,636.2 603,634.5 611,642.5 619,669.2 627,673.0 635,670.0 643,666.5 651,669.2 659,670.5 667,666.5 675,670.0 683,666.5 691,667.5 699,675.0 707,679.0 715,680.5 723,670.0 731,674.2 739,678.0 747,679.5 755,684.2 763,694.2 771,686.5 779,686.8 787,691.2 795,692.5 803,683.0 811,664.2 819,666.5 827,666.5 835,669.2 843,665.2 851,660.8 859,649.2 867,649.2 875,648.2 883,650.2 891,650.2 899,645.0 907,640.5 915,646.2 923,644.2 931,642.0 939,645.0 947,645.5 955,652.0 963,648.5 971,647.2 979,649.2 987,655.0 995,660.0 1003,661.5 1011,668.0 1019,669.2 1027,670.2 1035,661.2 1043,649.2 1051,655.0 1059,650.8 1067,647.5 1075,652.2 1083,649.2 1091,658.2 1099,651.2 1107,652.2 1115,647.5 1123,651.2 1131,651.2 1139,652.2 1147,668.8 1155,670.2 1163,670.2 1171,668.2 1179,657.5 1187,676.0 1195,677.2 1203,674.5 1211,673.2 1219,671.2 1227,666.8 1235,660.5 1243,662.0 1251,663.2 1259,664.2 1267,659.2 1275,661.2 1283,660.2 1291,675.5 1299,675.5 1307,675.5"/>
<rect x="1660" y="69" width="2" height="1" fill="#000"/>
<rect x="1660" y="118" width="2" height="1" fill="#000"/>
<rect x="1660" y="167" width="2" height="1" fill="#000"/>
<rect x="1660" y="216" width="2" height="1" fill="#000"/>
<rect x="1660" y="265" width="2" height="1" fill="#000"/>
<rect x="1660" y="314" width="2" height="1" fill="#000"/>
<rect x="1660" y="363" width="2" height="1" fill="#000"/>
<rect x="1660" y="412" width="2" height="1" fill="#000"/>
<rect x="1660" y="461" width="2" height="1" fill="#000"/>
<rect x="1660" y="510" width="2" height="1" fill="#000"/>
<rect x="3" y="723" width="1" height="3" fill="#000"/>
<rect x="99" y="723" width="1" height="3" fill="#000"/>
<rect x="195" y="723" width="1" height="3" fill="#000"/>
<rect x="291" y="723" width="1" height="3" fill="#000"/>
<rect x="387" y="723" width="1" height="3" fill="#000"/>
<rect x="483" y="723" width="1" height="3" fill="#000"/>
<rect x="579" y="723" width="1" height="3" fill="#000"/>
<rect x="675" y="723" width="1" height="3" fill="#000"/>
<rect x="771" y="723" width="1" height="3" fill="#000"/>
<rect x="867" y="723" width="1" height="3" fill="#000"/>
<rect x="963" y="723" width="1" height="3" fill="#000"/>
<rect x="1059" y="723" width="1" height="3" fill="#000"/>
<rect x="1155" y="723" width="1" height="3" fill="#000"/>
<rect x="1251" y="723" width="1" height="3" fill="#000"/>
</g>
<text class="ax" x="1666" y="73.8" textLength="45.2" lengthAdjust="spacingAndGlyphs">1534.25</text>
<text class="ax" x="1666" y="122.8" textLength="45.2" lengthAdjust="spacingAndGlyphs">1526.00</text>
<text class="ax" x="1666" y="171.8" textLength="45.2" lengthAdjust="spacingAndGlyphs">1517.75</text>
<text class="ax" x="1666" y="220.8" textLength="45.2" lengthAdjust="spacingAndGlyphs">1509.50</text>
<text class="ax" x="1666" y="269.8" textLength="45.2" lengthAdjust="spacingAndGlyphs">1501.25</text>
<text class="ax" x="1666" y="318.8" textLength="45.2" lengthAdjust="spacingAndGlyphs">1493.00</text>
<text class="ax" x="1666" y="367.8" textLength="45.2" lengthAdjust="spacingAndGlyphs">1484.75</text>
<text class="ax" x="1666" y="416.8" textLength="45.2" lengthAdjust="spacingAndGlyphs">1476.65</text>
<text class="ax" x="1666" y="465.8" textLength="45.2" lengthAdjust="spacingAndGlyphs">1468.40</text>
<text class="ax" x="1666" y="514.8" textLength="45.2" lengthAdjust="spacingAndGlyphs">1460.15</text>
<text class="ax" x="1663.5" y="544.5">8.223</text>
<text class="ax" x="1663.5" y="560.0">0.00</text>
<text class="ax" x="1663.5" y="589.0">-12.917</text>
<text class="ax" x="1663.5" y="607.5">100</text>
<text class="ax" x="1663.5" y="638.0">70</text>
<text class="ax" x="1663.5" y="689.0">30</text>
<text class="ax" x="1663.5" y="719.0">0</text>
<rect x="1661" y="88" width="56" height="14" fill="#ff0000" shape-rendering="crispEdges"/>
<text class="tag" x="1666" y="99.8" textLength="45.2" lengthAdjust="spacingAndGlyphs">1530.00</text>
<rect x="1661" y="267" width="56" height="14" fill="#00ff00" shape-rendering="crispEdges"/>
<text class="tag" x="1666" y="278.8" textLength="45.2" lengthAdjust="spacingAndGlyphs">1500.00</text>
<rect x="1661" y="378" width="56" height="14" fill="#000" shape-rendering="crispEdges"/>
<text class="tag" x="1666" y="389.8" textLength="45.2" lengthAdjust="spacingAndGlyphs">1481.12</text>
<rect x="1661" y="415" width="56" height="14" fill="#0000ff" shape-rendering="crispEdges"/>
<text class="tag" x="1666" y="426.8" textLength="45.2" lengthAdjust="spacingAndGlyphs">1475.00</text>
<text class="ax" x="2" y="738" textLength="63.4" lengthAdjust="spacingAndGlyphs">6 Sep 2019</text>
<text class="ax" x="98" y="738" textLength="74" lengthAdjust="spacingAndGlyphs">10 Sep 16:00</text>
<text class="ax" x="194" y="738" textLength="74" lengthAdjust="spacingAndGlyphs">12 Sep 16:00</text>
<text class="ax" x="290" y="738" textLength="74" lengthAdjust="spacingAndGlyphs">16 Sep 16:00</text>
<text class="ax" x="386" y="738" textLength="74" lengthAdjust="spacingAndGlyphs">18 Sep 16:00</text>
<text class="ax" x="482" y="738" textLength="74" lengthAdjust="spacingAndGlyphs">20 Sep 16:00</text>
<text class="ax" x="578" y="738" textLength="74" lengthAdjust="spacingAndGlyphs">24 Sep 16:00</text>
<text class="ax" x="674" y="738" textLength="74" lengthAdjust="spacingAndGlyphs">26 Sep 16:00</text>
<text class="ax" x="770" y="738" textLength="74" lengthAdjust="spacingAndGlyphs">30 Sep 16:00</text>
<text class="ax" x="866" y="738" textLength="66.6" lengthAdjust="spacingAndGlyphs">2 Oct 16:00</text>
<text class="ax" x="962" y="738" textLength="66.6" lengthAdjust="spacingAndGlyphs">4 Oct 16:00</text>
<text class="ax" x="1058" y="738" textLength="66.6" lengthAdjust="spacingAndGlyphs">8 Oct 16:00</text>
<text class="ax" x="1154" y="738" textLength="73.2" lengthAdjust="spacingAndGlyphs">10 Oct 16:00</text>
<text class="ax" x="1250" y="738" textLength="73.2" lengthAdjust="spacingAndGlyphs">14 Oct 16:00</text>
<path d="M6 50 L15 50 L10.5 44.6Z" fill="#000"/>
<text class="ax" x="20.6" y="52" textLength="68.4" lengthAdjust="spacingAndGlyphs">XAUUSD-,H4</text>
<text class="ax" x="98.3" y="52" textLength="45.6" lengthAdjust="spacingAndGlyphs">1481.22</text>
<text class="ax" x="148.3" y="52" textLength="45.6" lengthAdjust="spacingAndGlyphs">1481.50</text>
<text class="ax" x="198.3" y="52" textLength="45.6" lengthAdjust="spacingAndGlyphs">1480.61</text>
<text class="ax" x="248.3" y="52" textLength="45.6" lengthAdjust="spacingAndGlyphs">1481.12</text>
<text class="ax" x="7" y="547" textLength="84.4" lengthAdjust="spacingAndGlyphs">MACD(12,26,9)</text>
<text class="ax" x="96" y="547" textLength="35.4" lengthAdjust="spacingAndGlyphs">-3.646</text>
<text class="ax" x="136" y="547" textLength="36" lengthAdjust="spacingAndGlyphs">-2.916</text>
<text class="ax" x="7" y="610" textLength="41.8" lengthAdjust="spacingAndGlyphs">RSI(14)</text>
<text class="ax" x="53.3" y="610" textLength="45.6" lengthAdjust="spacingAndGlyphs">37.0445</text>
<text class="cn" x="1263.6" y="206.8" textLength="253.2" lengthAdjust="spacing">多空转折点</text>
<text class="cn" x="1514.4" y="204.6" style="font-size:56.5px" textLength="118.6" lengthAdjust="spacingAndGlyphs">1500</text>
<g shape-rendering="crispEdges">
<rect x="5" y="59" width="285" height="78" fill="#fff"/>
<rect x="6" y="60" width="141" height="76" fill="url(#bg1)"/>
<rect x="149" y="60" width="140" height="76" fill="url(#bg1)"/>
<rect x="74" y="60" width="147" height="27" fill="#fff"/>
<rect x="10" y="87" width="60" height="1" fill="#8c8cf0"/><rect x="225" y="87" width="60" height="1" fill="#8c8cf0"/>
<rect x="76.5" y="60.5" width="142" height="24" fill="#fff" stroke="#b4b4b4"/>
<rect x="78" y="62" width="22" height="21" fill="#d4d4d4"/><rect x="78" y="62" width="22" height="10" fill="#ececec"/>
<rect x="77.5" y="61.5" width="23" height="22" fill="none" stroke="#c4c4c4"/>
<rect x="195" y="62" width="22" height="21" fill="#d4d4d4"/><rect x="195" y="62" width="22" height="10" fill="#ececec"/>
<rect x="194.5" y="61.5" width="23" height="22" fill="none" stroke="#c4c4c4"/>
</g>
<path d="M85 71 L92.2 71 L88.6 75.2Z" fill="#4a60b4"/><path d="M202.8 74.4 L210.2 74.4 L206.5 70.2Z" fill="#4a60b4"/>
<text x="190.3" y="77.8" font-size="15.2" text-anchor="end" fill="#000">1.00</text>
<text x="23.5" y="78.3" font-size="14.8" fill="#fff" textLength="32.2" lengthAdjust="spacingAndGlyphs">SELL</text>
<text x="240.2" y="78.3" font-size="14.8" fill="#fff" textLength="28.2" lengthAdjust="spacingAndGlyphs">BUY</text>
<text x="36.3" y="125" font-size="16.4" font-weight="bold" fill="#fff" textLength="35.2" lengthAdjust="spacingAndGlyphs">1481</text>
<text x="75.8" y="125" font-size="40.3" fill="#fff" textLength="45.6" lengthAdjust="spacingAndGlyphs">11</text>
<text x="178.2" y="125" font-size="16.4" font-weight="bold" fill="#fff" textLength="35.2" lengthAdjust="spacingAndGlyphs">1481</text>
<text x="219.2" y="125" font-size="40.3" fill="#fff" textLength="44.4" lengthAdjust="spacingAndGlyphs">52</text>
</svg></body></html>
